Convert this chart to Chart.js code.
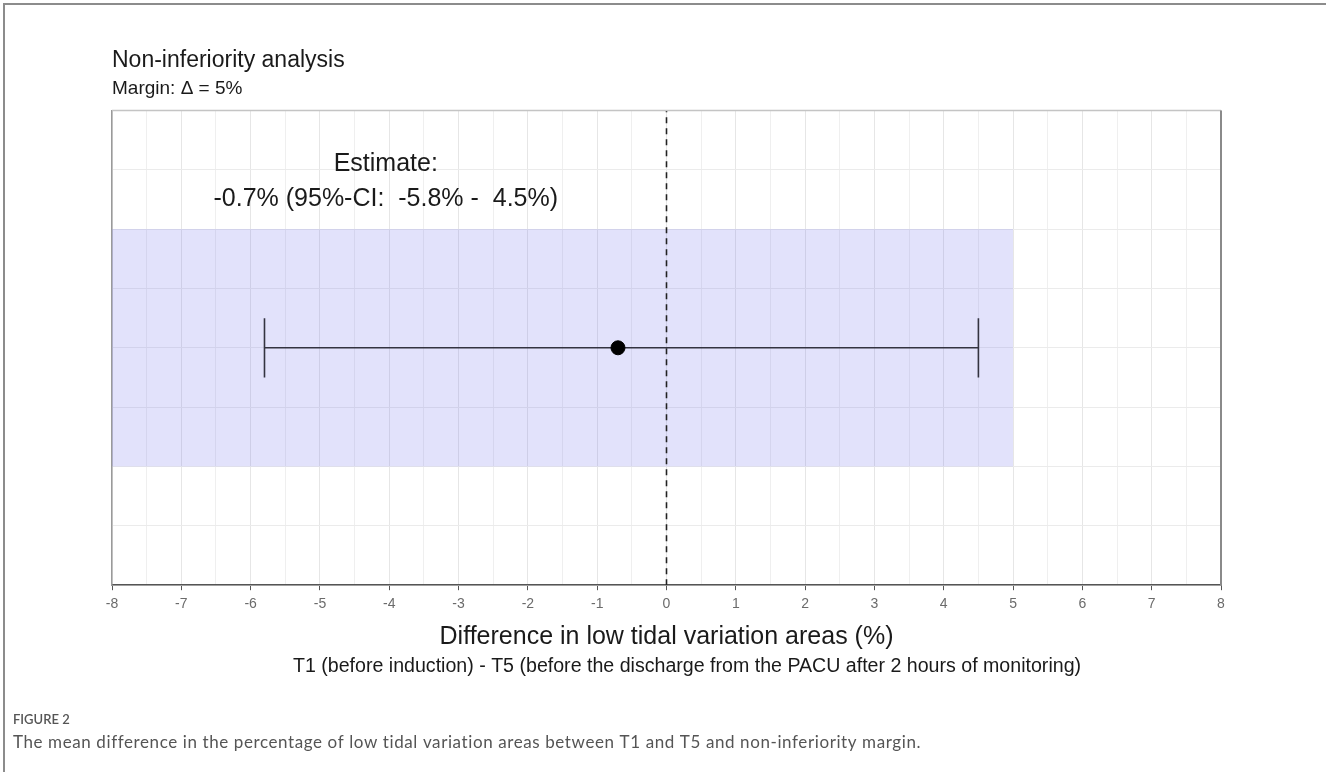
<!DOCTYPE html>
<html>
<head>
<meta charset="utf-8">
<script src="https://cdn.jsdelivr.net/npm/chart.js@4"></script>
<style>
  html, body { margin: 0; padding: 0; background: #fff; }
  canvas { display: block; }
</style>
</head>
<body>
<canvas id="grafico-noinf" width="1326" height="772"></canvas>
<script>
// values
const estimateVals = [-0.7];
const ciBounds = [-5.8, 4.5];
const marginDelta = 5;
const xRange = [-8, 8];
const yRange = [0, 8];
const rowY = [4];
const capY = [3.5, 4.5];
const bandY = [2, 6];

const fmt = v => v.toFixed(1);

(function () {
  const ctx = document.getElementById("grafico-noinf");

  const extras = {
    id: 'extras',
    beforeDraw(chart) {
      const c = chart.ctx;
      c.save();
      c.fillStyle = '#fff';
      c.fillRect(0, 0, chart.width, chart.height);
      c.restore();
    },
    afterDraw(chart) {
      const c = chart.ctx;
      const a = chart.chartArea;
      const x = chart.scales.x;
      const y = chart.scales.y;
      c.save();

      // panel border top / right
      c.strokeStyle = '#c4c4c4';
      c.lineWidth = 1.5;
      c.beginPath();
      c.moveTo(a.left, a.top);
      c.lineTo(a.right, a.top);
      c.stroke();
      c.strokeStyle = '#8a8a8a';
      c.lineWidth = 2;
      c.beginPath();
      c.moveTo(a.right, a.top);
      c.lineTo(a.right, a.bottom);
      c.stroke();

      // estimate label
      c.fillStyle = '#1a1a1a';
      c.textAlign = 'center';
      c.textBaseline = 'middle';
      c.font = '25px "Liberation Sans", Arial, sans-serif';
      const lx = x.getPixelForValue(-4.05);
      c.fillText('Estimate:', lx, y.getPixelForValue(7.1));
      c.fillText(fmt(estimateVals[0]) + '% (95%-CI:  ' + fmt(ciBounds[0]) + '% -  ' + fmt(ciBounds[1]) + '%)',
        lx, y.getPixelForValue(6.5));

      // second x-axis line
      c.font = '19.6px "Liberation Sans", Arial, sans-serif';
      c.fillStyle = '#1a1a1a';
      c.fillText('T1 (before induction) - T5 (before the discharge from the PACU after 2 hours of monitoring)', 687, 667);

      // figure caption
      c.textAlign = 'left';
      c.fillStyle = '#555';
      c.font = '600 13px Lato, "Open Sans", sans-serif';
      c.fillText('FIGURE 2', 13, 720);
      c.font = '17px Lato, "Open Sans", sans-serif';
      c.letterSpacing = '0.6px';
      c.fillText('The mean difference in the percentage of low tidal variation areas between T1 and T5 and non-inferiority margin.', 13, 743);
      c.letterSpacing = '0px';

      // frame of the figure box
      c.strokeStyle = '#8c8c8c';
      c.lineWidth = 2;
      c.beginPath();
      c.moveTo(4, chart.height);
      c.lineTo(4, 4);
      c.lineTo(chart.width, 4);
      c.stroke();
      c.restore();
    }
  };

  new Chart(ctx, {
    type: 'line',
    data: {
      datasets: [
        {
          label: 'Estimate',
          data: estimateVals.map((v, i) => ({ x: v, y: rowY[i] })),
          showLine: false,
          pointRadius: 7,
          pointBackgroundColor: '#000',
          pointBorderColor: '#000'
        },
        {
          label: '95%-CI',
          data: [{ x: ciBounds[0], y: rowY[0] }, { x: ciBounds[1], y: rowY[0] }],
          borderColor: '#333340',
          borderWidth: 1.6,
          pointRadius: 0
        },
        {
          label: 'cap lower',
          data: capY.map(v => ({ x: ciBounds[0], y: v })),
          borderColor: '#333340',
          borderWidth: 1.6,
          pointRadius: 0
        },
        {
          label: 'cap upper',
          data: capY.map(v => ({ x: ciBounds[1], y: v })),
          borderColor: '#333340',
          borderWidth: 1.6,
          pointRadius: 0
        },
        {
          label: 'zero',
          data: yRange.map(v => ({ x: 0, y: v })),
          borderColor: '#222',
          borderWidth: 1.6,
          borderDash: [6, 5],
          pointRadius: 0
        },
        {
          label: 'margin top',
          data: [{ x: xRange[0], y: bandY[1] }, { x: marginDelta, y: bandY[1] }],
          borderWidth: 0,
          borderColor: 'rgba(0,0,0,0)',
          pointRadius: 0,
          fill: '+1',
          backgroundColor: 'rgba(110,110,235,0.2)'
        },
        {
          label: 'margin bottom',
          data: [{ x: xRange[0], y: bandY[0] }, { x: marginDelta, y: bandY[0] }],
          borderWidth: 0,
          borderColor: 'rgba(0,0,0,0)',
          pointRadius: 0,
          fill: false
        }
      ]
    },
    options: {
      responsive: false,
      animation: false,
      devicePixelRatio: 1,
      layout: {
        padding: { left: 112, right: 105, top: 40, bottom: 120 }
      },
      plugins: {
        legend: { display: false },
        tooltip: { enabled: false },
        title: {
          display: true,
          text: 'Non-inferiority analysis',
          align: 'start',
          color: '#1a1a1a',
          font: { family: '"Liberation Sans", Arial, sans-serif', size: 23, weight: 'normal' },
          padding: { top: 7, bottom: 1 }
        },
        subtitle: {
          display: true,
          text: 'Margin: \u0394 = ' + marginDelta + '%',
          align: 'start',
          color: '#1a1a1a',
          font: { family: '"Liberation Sans", Arial, sans-serif', size: 19 },
          padding: { top: 2, bottom: 10 }
        }
      },
      scales: {
        x: {
          type: 'linear',
          position: 'bottom',
          min: xRange[0],
          max: xRange[1],
          ticks: {
            stepSize: 0.5,
            autoSkip: false,
            maxRotation: 0,
            callback: v => Number.isInteger(v) ? String(v) : '',
            color: '#6b6b6b',
            font: { family: '"Liberation Sans", Arial, sans-serif', size: 14 },
            padding: 6
          },
          grid: {
            color: c => (c.tick && Number.isInteger(c.tick.value)) ? '#e6e6e6' : '#efefef',
            tickColor: c => (c.tick && Number.isInteger(c.tick.value)) ? '#555' : 'rgba(0,0,0,0)',
            tickLength: 5
          },
          border: { color: '#555', width: 1.5 },
          title: {
            display: true,
            text: 'Difference in low tidal variation areas (%)',
            color: '#1a1a1a',
            font: { family: '"Liberation Sans", Arial, sans-serif', size: 25 },
            padding: { top: 3, bottom: 0 }
          }
        },
        y: {
          type: 'linear',
          min: yRange[0],
          max: yRange[1],
          ticks: { display: false, stepSize: 1 },
          grid: { color: '#ebebeb', drawTicks: false },
          border: { color: '#9a9a9a', width: 1.5 }
        }
      }
    },
    plugins: [extras]
  });
})();
</script>
</body>
</html>
